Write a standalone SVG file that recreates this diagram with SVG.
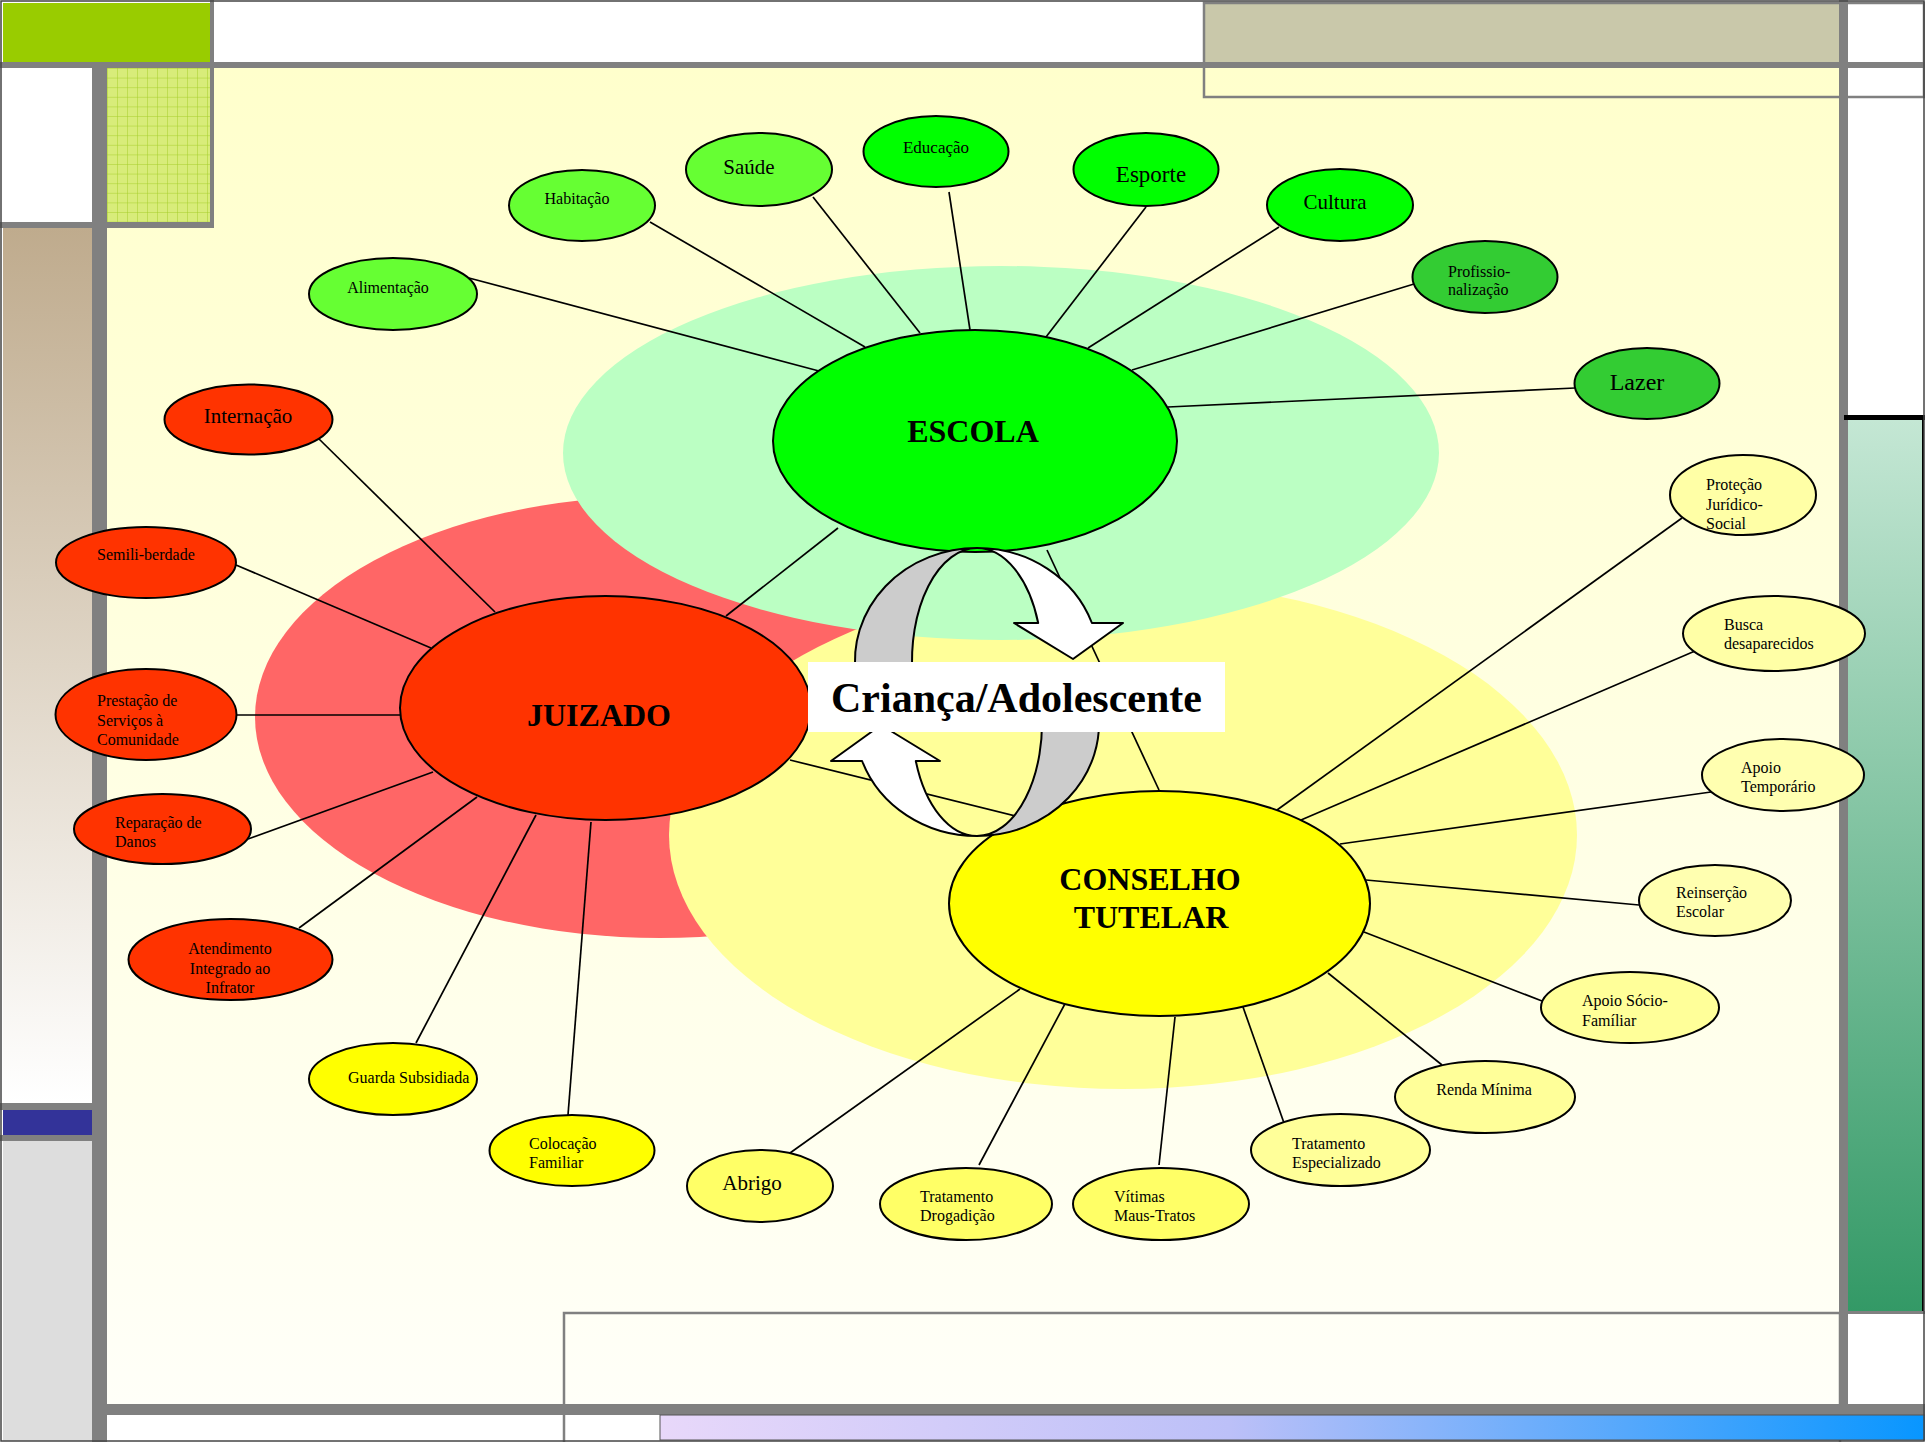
<svg xmlns="http://www.w3.org/2000/svg" width="1925" height="1442" viewBox="0 0 1925 1442">
<defs>
<linearGradient id="bgGrad" x1="0" y1="0" x2="0" y2="1">
<stop offset="0" stop-color="#FFFFCC"/>
<stop offset="1" stop-color="#FFFFF8"/>
</linearGradient>
<linearGradient id="tanGrad" x1="0" y1="0" x2="0" y2="1">
<stop offset="0" stop-color="#BFAB8D"/>
<stop offset="1" stop-color="#FFFFFF"/>
</linearGradient>
<linearGradient id="greenGrad" x1="0" y1="0" x2="0" y2="1">
<stop offset="0" stop-color="#C4E7D4"/>
<stop offset="1" stop-color="#339966"/>
</linearGradient>
<linearGradient id="blueGrad" x1="0" y1="0" x2="1" y2="0">
<stop offset="0" stop-color="#E8D8FA"/>
<stop offset="0.45" stop-color="#BCC0F8"/>
<stop offset="1" stop-color="#0896FF"/>
</linearGradient>
<pattern id="grid" width="10" height="9.6" patternUnits="userSpaceOnUse" x="107" y="68">
<rect width="10" height="9.6" fill="#D8EC7A"/>
<path d="M0 0H10M0 0V9.6" stroke="#A6CF2A" stroke-width="1"/>
</pattern>
</defs>
<style>
.fr{fill:#808080}
.n ellipse{stroke:#000;stroke-width:2}
.t{font-family:"Liberation Serif","Times New Roman",serif;font-size:16px;fill:#000}
.c{text-anchor:middle}
.lg{font-size:21px}
.b{font-weight:bold;font-size:32px}
#connectors line{stroke:#000;stroke-width:1.7}
.arr{stroke:#000;stroke-width:2;stroke-linejoin:round}
</style>

<g id="frame">
<rect x="0" y="0" width="1925" height="1442" fill="#FFFFFF"/>
<rect x="107" y="68" width="1732" height="1336" fill="url(#bgGrad)"/>
<rect x="3" y="3" width="207" height="59" fill="#99CC00"/>
<rect x="1204" y="3" width="635" height="59" fill="#C9C8AA"/>
<rect x="1204" y="3" width="720" height="94" fill="none" stroke="#808080" stroke-width="2.5"/>
<rect class="fr" x="0" y="62" width="1925" height="6"/>
<rect x="107" y="68" width="103" height="154" fill="url(#grid)"/>
<rect class="fr" x="210" y="0" width="4" height="228"/>
<rect class="fr" x="0" y="222" width="214" height="6"/>
<rect x="3" y="228" width="89" height="875" fill="url(#tanGrad)"/>
<rect class="fr" x="0" y="1103" width="92" height="7"/>
<rect x="3" y="1110" width="89" height="25" fill="#333399"/>
<rect class="fr" x="0" y="1135" width="92" height="6"/>
<rect x="3" y="1141" width="89" height="300" fill="#DDDDDD"/>
<rect class="fr" x="92" y="68" width="15" height="1374"/>
<rect class="fr" x="1839" y="0" width="9" height="1415"/>
<rect x="1844" y="415" width="81" height="5" fill="#000"/>
<rect x="1848" y="420" width="75" height="892" fill="url(#greenGrad)"/>
<rect x="1922" y="420" width="2" height="892" fill="#000"/>
<rect x="564" y="1313" width="1276" height="140" fill="none" stroke="#808080" stroke-width="2.5"/>
<rect class="fr" x="1848" y="1311" width="77" height="3"/>
<rect class="fr" x="92" y="1404" width="1833" height="11"/>
<rect x="660" y="1415" width="1265" height="25" fill="url(#blueGrad)" stroke="#555" stroke-width="1"/>
<rect x="1" y="1" width="1923" height="1440" fill="none" stroke="#444" stroke-width="1.5"/>
</g>

<g id="background-areas">
<ellipse cx="660" cy="717" rx="405" ry="221" fill="#FF6666"/>
<ellipse cx="1123" cy="835" rx="454" ry="254" fill="#FFFF99"/>
<ellipse cx="1001" cy="453" rx="438" ry="187" fill="#BBFFC3"/>
</g>

<g id="connectors">
<line x1="469" y1="278" x2="819" y2="371"/>
<line x1="650" y1="222" x2="865" y2="347"/>
<line x1="813" y1="197" x2="920" y2="333"/>
<line x1="949" y1="192" x2="970" y2="330"/>
<line x1="1146" y1="207" x2="1046" y2="337"/>
<line x1="1279" y1="227" x2="1088" y2="348"/>
<line x1="1414" y1="284" x2="1132" y2="370"/>
<line x1="1575" y1="388" x2="1168" y2="407"/>
<line x1="317" y1="437" x2="495" y2="612"/>
<line x1="236" y1="565" x2="431" y2="648"/>
<line x1="237" y1="715" x2="400" y2="715"/>
<line x1="248" y1="839" x2="433" y2="772"/>
<line x1="299" y1="928" x2="477" y2="797"/>
<line x1="416" y1="1043" x2="536" y2="815"/>
<line x1="568" y1="1115" x2="591" y2="822"/>
<line x1="1682" y1="518" x2="1277" y2="810"/>
<line x1="1695" y1="651" x2="1301" y2="820"/>
<line x1="1711" y1="792" x2="1340" y2="844"/>
<line x1="1639" y1="905" x2="1366" y2="880"/>
<line x1="1542" y1="1001" x2="1364" y2="932"/>
<line x1="1442" y1="1065" x2="1328" y2="973"/>
<line x1="1284" y1="1123" x2="1243" y2="1007"/>
<line x1="1159" y1="1165" x2="1175" y2="1017"/>
<line x1="979" y1="1165" x2="1067" y2="1000"/>
<line x1="790" y1="1153" x2="1020" y2="989"/>
<line x1="838" y1="528" x2="726" y2="616"/>
<line x1="1047" y1="550" x2="1159" y2="790"/>
<line x1="790" y1="760" x2="1040" y2="822"/>
</g>

<g id="alimentacao" class="n"><ellipse cx="393" cy="294" rx="84" ry="36" fill="#66FF33"/><text class="t c" x="388" y="293">Alimentação</text></g>
<g id="habitacao" class="n"><ellipse cx="582" cy="205.5" rx="73" ry="35.5" fill="#66FF33"/><text class="t c" x="577" y="204">Habitação</text></g>
<g id="saude" class="n"><ellipse cx="759" cy="169.5" rx="73" ry="36.5" fill="#66FF33"/><text class="t c lg" x="749" y="174">Saúde</text></g>
<g id="educacao" class="n"><ellipse cx="936" cy="151.5" rx="72.5" ry="35.5" fill="#00FF00"/><text class="t c" x="936" y="153" style="font-size:17px">Educação</text></g>
<g id="esporte" class="n"><ellipse cx="1146" cy="169.5" rx="72.5" ry="36.5" fill="#00FF00"/><text class="t c" x="1151" y="182" style="font-size:23px">Esporte</text></g>
<g id="cultura" class="n"><ellipse cx="1340" cy="205" rx="73" ry="36" fill="#00FF00"/><text class="t c lg" x="1335" y="209">Cultura</text></g>
<g id="profissionalizacao" class="n"><ellipse cx="1485" cy="277" rx="72.5" ry="36" fill="#33CC33"/><text class="t" x="1448" y="277">Profissio-<tspan x="1448" y="295">nalização</tspan></text></g>
<g id="lazer" class="n"><ellipse cx="1647" cy="383.5" rx="72.5" ry="35.5" fill="#33CC33"/><text class="t c" x="1637" y="390" style="font-size:24px">Lazer</text></g>

<g id="internacao" class="n"><ellipse cx="248.5" cy="419.5" rx="84" ry="35" fill="#FF3300"/><text class="t c lg" x="248" y="423">Internação</text></g>
<g id="semiliberdade" class="n"><ellipse cx="146" cy="562.5" rx="90" ry="35.5" fill="#FF3300"/><text class="t" x="97" y="560">Semili-berdade</text></g>
<g id="prestacao" class="n"><ellipse cx="146" cy="714.5" rx="90.5" ry="45.5" fill="#FF3300"/><text class="t" x="97" y="706">Prestação de<tspan x="97" y="726">Serviços à</tspan><tspan x="97" y="745">Comunidade</tspan></text></g>
<g id="reparacao" class="n"><ellipse cx="162.5" cy="829" rx="88.5" ry="35" fill="#FF3300"/><text class="t" x="115" y="828">Reparação de<tspan x="115" y="847">Danos</tspan></text></g>
<g id="atendimento" class="n"><ellipse cx="230.5" cy="959.5" rx="102" ry="40.5" fill="#FF3300"/><text class="t c" x="230" y="954">Atendimento<tspan x="230" y="974">Integrado ao</tspan><tspan x="230" y="993">Infrator</tspan></text></g>
<g id="guarda" class="n"><ellipse cx="393" cy="1079" rx="84" ry="36" fill="#FFFF00"/><text class="t" x="348" y="1083">Guarda Subsidiada</text></g>
<g id="colocacao" class="n"><ellipse cx="572" cy="1150.5" rx="82.5" ry="35.5" fill="#FFFF00"/><text class="t" x="529" y="1149">Colocação<tspan x="529" y="1168">Familiar</tspan></text></g>

<g id="protecao" class="n"><ellipse cx="1743" cy="495" rx="73" ry="40" fill="#FFFFA6"/><text class="t" x="1706" y="490">Proteção<tspan x="1706" y="510">Jurídico-</tspan><tspan x="1706" y="529">Social</tspan></text></g>
<g id="busca" class="n"><ellipse cx="1774" cy="633.5" rx="91" ry="37.5" fill="#FFFFA6"/><text class="t" x="1724" y="630">Busca<tspan x="1724" y="649">desaparecidos</tspan></text></g>
<g id="apoio-temporario" class="n"><ellipse cx="1783" cy="775" rx="81" ry="36" fill="#FFFFB0"/><text class="t" x="1741" y="773">Apoio<tspan x="1741" y="792">Temporário</tspan></text></g>
<g id="reinsercao" class="n"><ellipse cx="1715" cy="900.5" rx="76" ry="35.5" fill="#FFFFB0"/><text class="t" x="1676" y="898">Reinserção<tspan x="1676" y="917">Escolar</tspan></text></g>
<g id="apoio-socio" class="n"><ellipse cx="1630" cy="1007.5" rx="89" ry="35.5" fill="#FFFF99"/><text class="t" x="1582" y="1006">Apoio Sócio-<tspan x="1582" y="1026">Famíliar</tspan></text></g>
<g id="renda" class="n"><ellipse cx="1485" cy="1097" rx="90" ry="36" fill="#FFFF99"/><text class="t c" x="1484" y="1095">Renda Mínima</text></g>
<g id="tratamento-esp" class="n"><ellipse cx="1340.5" cy="1150" rx="89.5" ry="36" fill="#FFFF99"/><text class="t" x="1292" y="1149">Tratamento<tspan x="1292" y="1168">Especializado</tspan></text></g>
<g id="vitimas" class="n"><ellipse cx="1161" cy="1204" rx="88" ry="36" fill="#FFFF66"/><text class="t" x="1114" y="1202">Vítimas<tspan x="1114" y="1221">Maus-Tratos</tspan></text></g>
<g id="drogadicao" class="n"><ellipse cx="966" cy="1204" rx="86" ry="36" fill="#FFFF66"/><text class="t" x="920" y="1202">Tratamento<tspan x="920" y="1221">Drogadição</tspan></text></g>
<g id="abrigo" class="n"><ellipse cx="760" cy="1186" rx="73" ry="36" fill="#FFFF66"/><text class="t c lg" x="752" y="1190">Abrigo</text></g>

<g id="escola" class="n"><ellipse cx="975" cy="441" rx="202" ry="111" fill="#00FF00"/><text class="t c b" x="973" y="442">ESCOLA</text></g>
<g id="juizado" class="n"><ellipse cx="605.5" cy="708" rx="205.5" ry="112" fill="#FF3300"/><text class="t c b" x="599" y="726">JUIZADO</text></g>
<g id="conselho" class="n"><ellipse cx="1159.5" cy="903.5" rx="210.5" ry="112.5" fill="#FFFF00"/><text class="t c b" x="1150" y="890">CONSELHO<tspan x="1151" y="928">TUTELAR</tspan></text></g>

<g id="cycle-arrows">
<g id="arrow-up">
<path class="arr" fill="#CCCCCC" d="M977 548 A122 113 0 0 0 855.9 675 L912.5 675 A65 113 0 0 1 977 548 Z"/>
<path class="arr" fill="#FFFFFF" d="M977 548 A122 113 0 0 1 1091.9 623 L1123 623 L1073 659 L1014 623 L1038.2 623 A65 113 0 0 0 977 548 Z"/>
</g>
<g id="arrow-down" transform="rotate(180 977 692)">
<path class="arr" fill="#CCCCCC" d="M977 548 A122 113 0 0 0 855.9 675 L912.5 675 A65 113 0 0 1 977 548 Z"/>
<path class="arr" fill="#FFFFFF" d="M977 548 A122 113 0 0 1 1091.9 623 L1123 623 L1073 659 L1014 623 L1038.2 623 A65 113 0 0 0 977 548 Z"/>
</g>
</g>

<g id="crianca">
<rect x="808" y="662" width="417" height="70" fill="#FFFFFF"/>
<text class="t c" x="1016.5" y="712" style="font-weight:bold;font-size:42px">Criança/Adolescente</text>
</g>
</svg>
